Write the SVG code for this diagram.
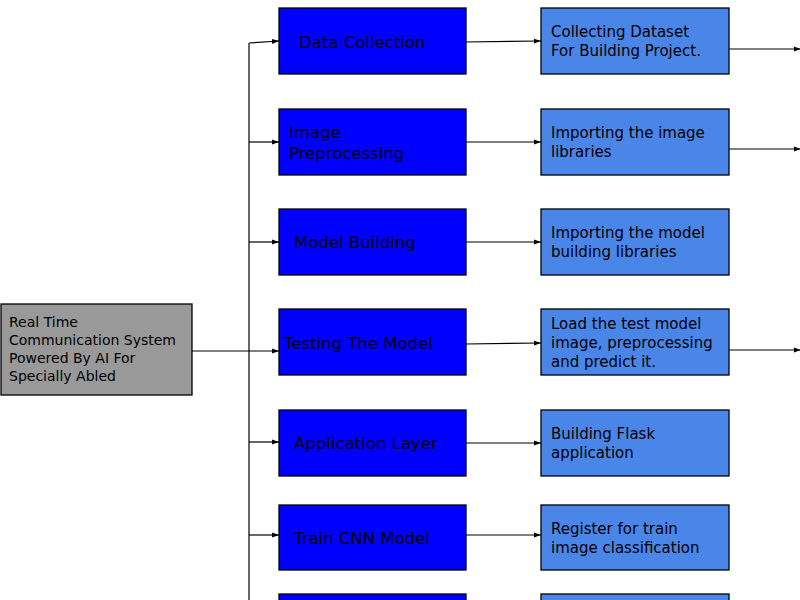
<svg xmlns="http://www.w3.org/2000/svg" width="800" height="600" viewBox="0 0 800 600">
<style>
.root{fill:#999999;stroke:#000;stroke-width:1.3}
.blue{fill:#0000ff;stroke:#000;stroke-width:1.3}
.lblue{fill:#4a86e8;stroke:#000;stroke-width:1.3}
text{font-family:"DejaVu Sans","Liberation Sans",sans-serif;fill:#000}
.t1{font-size:16.5px}
.t2{font-size:15px}
.t0{font-size:14px}
.c{fill:none;stroke:#000;stroke-width:1.2}
</style>
<defs>
<marker id="ah" viewBox="0 0 10 10" refX="10" refY="5" markerWidth="7" markerHeight="7" markerUnits="userSpaceOnUse" orient="auto">
<path d="M0,1.5 L10,5 L0,8.5 z" fill="#000"/>
</marker>
</defs>
<rect width="800" height="600" fill="#fff"/>
<g id="connectors">
<line class="c" x1="192" y1="351" x2="279" y2="351" marker-end="url(#ah)"/>
<line class="c" x1="249" y1="43" x2="249" y2="600"/>
<line class="c" x1="249" y1="43" x2="279" y2="41" marker-end="url(#ah)"/>
<line class="c" x1="249" y1="142" x2="279" y2="142" marker-end="url(#ah)"/>
<line class="c" x1="249" y1="242" x2="279" y2="242" marker-end="url(#ah)"/>
<line class="c" x1="249" y1="442" x2="279" y2="442" marker-end="url(#ah)"/>
<line class="c" x1="249" y1="535" x2="279" y2="535" marker-end="url(#ah)"/>
<line class="c" x1="466" y1="42" x2="541" y2="41" marker-end="url(#ah)"/>
<line class="c" x1="466" y1="142" x2="541" y2="142" marker-end="url(#ah)"/>
<line class="c" x1="466" y1="242" x2="541" y2="242" marker-end="url(#ah)"/>
<line class="c" x1="466" y1="344" x2="541" y2="343" marker-end="url(#ah)"/>
<line class="c" x1="466" y1="443" x2="541" y2="443" marker-end="url(#ah)"/>
<line class="c" x1="466" y1="535" x2="541" y2="535" marker-end="url(#ah)"/>
<line class="c" x1="729" y1="49" x2="801" y2="49" marker-end="url(#ah)"/>
<line class="c" x1="729" y1="149" x2="801" y2="149" marker-end="url(#ah)"/>
<line class="c" x1="729" y1="350" x2="801" y2="350" marker-end="url(#ah)"/>
</g>
<g id="root">
<rect class="root" x="1" y="304" width="191" height="91"/>
<text class="t0" x="9" y="327">Real Time</text>
<text class="t0" x="9" y="345">Communication System</text>
<text class="t0" x="9" y="363">Powered By AI For</text>
<text class="t0" x="9" y="381">Specially Abled</text>
</g>
<g id="data-collection">
<rect class="blue" x="279" y="8" width="187" height="66"/>
<text class="t1" x="299" y="48">Data Collection</text>
</g>
<g id="image-preprocessing">
<rect class="blue" x="279" y="109" width="187" height="66"/>
<text class="t1" x="289" y="138">Image</text>
<text class="t1" x="289" y="159">Preprocessing</text>
</g>
<g id="model-building">
<rect class="blue" x="279" y="209" width="187" height="66"/>
<text class="t1" x="294" y="248">Model Building</text>
</g>
<g id="testing-model">
<rect class="blue" x="279" y="309" width="187" height="66"/>
<text class="t1" x="284" y="349">Testing The Model</text>
</g>
<g id="application-layer">
<rect class="blue" x="279" y="410" width="187" height="66"/>
<text class="t1" x="294" y="449">Application Layer</text>
</g>
<g id="train-cnn">
<rect class="blue" x="279" y="505" width="187" height="65"/>
<text class="t1" x="294" y="544">Train CNN Model</text>
</g>
<g id="blue-7">
<rect class="blue" x="279" y="594" width="187" height="66"/>
</g>
<g id="collecting-dataset">
<rect class="lblue" x="541" y="8" width="188" height="66"/>
<text class="t2" x="551" y="37">Collecting Dataset</text>
<text class="t2" x="551" y="56">For Building Project.</text>
</g>
<g id="importing-image">
<rect class="lblue" x="541" y="109" width="188" height="66"/>
<text class="t2" x="551" y="138">Importing the image</text>
<text class="t2" x="551" y="157">libraries</text>
</g>
<g id="importing-model">
<rect class="lblue" x="541" y="209" width="188" height="66"/>
<text class="t2" x="551" y="238">Importing the model</text>
<text class="t2" x="551" y="257">building libraries</text>
</g>
<g id="load-test">
<rect class="lblue" x="541" y="309" width="188" height="66"/>
<text class="t2" x="551" y="329">Load the test model</text>
<text class="t2" x="551" y="348">image, preprocessing</text>
<text class="t2" x="551" y="367">and predict it.</text>
</g>
<g id="building-flask">
<rect class="lblue" x="541" y="410" width="188" height="66"/>
<text class="t2" x="551" y="439">Building Flask</text>
<text class="t2" x="551" y="458">application</text>
</g>
<g id="register-train">
<rect class="lblue" x="541" y="505" width="188" height="65"/>
<text class="t2" x="551" y="534">Register for train</text>
<text class="t2" x="551" y="553">image classification</text>
</g>
<g id="lblue-7">
<rect class="lblue" x="541" y="594" width="188" height="66"/>
</g>
</svg>
